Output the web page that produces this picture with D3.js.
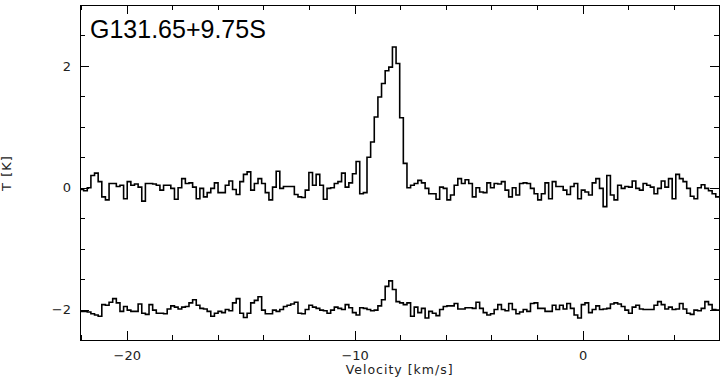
<!DOCTYPE html>
<html>
<head>
<meta charset="utf-8">
<script src="https://cdn.jsdelivr.net/npm/d3@7"></script>
<style>
  body { margin: 0; background: #fff; }
  svg { display: block; }
  .tick text { font-family: "DejaVu Sans", sans-serif; font-size: 13px; fill: #222; }
  .tick line { stroke: #000; shape-rendering: crispEdges; }
</style>
</head>
<body>
<svg width="724" height="385"></svg>
<script>
// spectrum channels: left edge of first channel and channel width (km/s)
var v0 = -22.05;
var dv = 0.1594;

// upper spectrum, T [K]
var upperT = [
  -0.03,-0.05,0.00,0.20,0.24,0.10,-0.15,-0.20,0.07,0.07,
  0.02,0.04,-0.18,0.10,0.04,0.06,0.01,-0.22,0.07,0.07,
  0.06,0.04,-0.04,0.04,0.04,-0.01,-0.19,0.00,0.15,0.07,
  0.08,0.01,-0.18,-0.01,-0.15,-0.08,-0.01,0.08,-0.08,-0.08,
  0.04,0.11,-0.03,-0.11,
  0.10,0.22,0.26,-0.04,0.07,0.15,0.07,-0.08,-0.20,0.01,
  0.27,-0.01,0.02,0.02,0.02,-0.11,-0.15,-0.16,-0.04,0.25,
  0.04,0.22,0.04,-0.19,-0.01,0.00,0.07,0.10,0.24,0.01,
  0.08,0.23,0.43,-0.10,-0.08,0.50,
  0.75,1.16,1.49,1.71,1.92,1.98,2.31,2.04,1.15,0.40,0.00,
  0.04,0.07,0.12,0.08,-0.01,-0.10,-0.10,-0.19,0.01,-0.01,
  -0.20,-0.12,0.04,0.15,0.07,0.13,0.07,-0.15,0.00,-0.07,
  -0.08,0.08,0.00,0.07,0.06,0.10,-0.04,-0.15,0.00,-0.12,
  0.07,0.08,0.07,-0.01,-0.10,-0.20,-0.10,0.08,-0.18,0.10,
  0.02,
  0.02,-0.04,-0.11,0.02,0.07,-0.18,-0.04,-0.07,-0.12,0.08,
  0.15,-0.01,-0.31,0.20,-0.12,-0.20,0.04,-0.01,0.02,0.01,
  0.11,-0.01,-0.04,0.07,0.04,0.01,-0.10,-0.01,0.11,0.01,
  0.15,-0.18,0.22,0.15,0.10,-0.01,-0.14,-0.18,0.00,0.05,
  -0.01,-0.05,-0.10,-0.15
];

// lower spectrum, T [K], drawn with an offset
var lowerOffset = -2;
var lowerT = [
  -0.03,-0.03,-0.04,-0.07,-0.09,-0.11,0.08,0.07,0.12,0.18,
  0.11,-0.03,0.05,-0.01,-0.03,-0.03,0.09,-0.06,-0.08,0.08,
  -0.01,-0.06,-0.06,-0.07,0.01,0.06,0.04,0.01,0.04,0.05,
  0.11,0.16,0.07,0.02,0.01,-0.03,-0.11,-0.06,-0.03,-0.05,
  0.00,-0.02,0.11,0.18,
  -0.06,-0.13,-0.06,0.11,0.15,0.21,-0.01,-0.07,-0.07,-0.01,
  -0.03,0.00,0.05,0.07,0.09,0.12,-0.06,-0.07,0.00,0.07,
  0.04,0.02,-0.01,-0.02,-0.06,-0.01,0.04,0.02,0.00,0.08,
  0.03,-0.05,-0.09,0.03,0.02,0.00,-0.02,-0.01,0.06,0.16,
  0.38,0.47,0.33,0.13,
  0.11,0.08,0.11,-0.11,0.04,-0.05,0.02,-0.14,-0.03,-0.06,
  -0.10,0.00,0.05,0.06,0.06,0.10,0.01,0.01,0.03,0.03,
  0.02,0.12,0.02,-0.05,-0.09,-0.07,0.00,0.08,0.00,-0.02,
  0.10,0.00,-0.07,-0.04,0.00,-0.03,0.10,0.11,0.02,0.02,
  -0.03,-0.03,0.07,0.00,
  0.07,0.01,0.10,0.02,-0.09,-0.14,0.08,0.11,-0.05,0.00,
  0.06,0.00,0.01,0.02,0.09,0.11,0.09,0.05,-0.01,-0.06,
  0.04,0.07,0.01,0.00,0.00,0.00,0.07,0.13,0.08,0.01,
  0.04,0.00,0.01,0.10,0.01,-0.06,-0.08,-0.01,-0.02,0.02,
  0.13,0.08,0.00,-0.01
];

var xMajor = [-20, -10, 0];
var xMinor = [-22, -18, -16, -14, -12, -8, -6, -4, -2, 2, 4, 6];
var yMajor = [-2, 0, 2];
var yMinor = [-2.5, -1.5, -1, -0.5, 0.5, 1, 1.5, 2.5, 3];

var title = "G131.65+9.75S";

var svg = d3.select("svg");
var pLeft = 80, pRight = 719.3, pTop = 5, pBottom = 340;

var x = d3.scaleLinear().domain([-22.05, 6.0]).range([pLeft, pRight]);
var y = d3.scaleLinear().domain([-2.5, 3.0]).range([pBottom, pTop]);

function channels(vals, off) {
  var pts = vals.map(function(t, i) { return [v0 + i * dv, t + off]; });
  pts.push([v0 + vals.length * dv, vals[vals.length - 1] + off]);
  return pts;
}

svg.append("clipPath").attr("id", "clip")
   .append("rect")
   .attr("x", pLeft).attr("y", pTop)
   .attr("width", pRight - pLeft).attr("height", pBottom - pTop);

var line = d3.line()
    .x(function(d) { return x(d[0]); })
    .y(function(d) { return y(d[1]); })
    .curve(d3.curveStepAfter);

var g = svg.append("g").attr("clip-path", "url(#clip)");
g.append("path")
 .datum(channels(upperT, 0))
 .attr("d", line)
 .attr("fill", "none").attr("stroke", "#000").attr("stroke-width", 1.6);
g.append("path")
 .datum(channels(lowerT, lowerOffset))
 .attr("d", line)
 .attr("fill", "none").attr("stroke", "#000").attr("stroke-width", 1.6);

// axes with inward ticks on all sides
function axisGroup(axis, tx, ty) {
  var a = svg.append("g").attr("transform", "translate(" + tx + "," + ty + ")").call(axis);
  a.select(".domain").remove();
  return a;
}

function minusFmt(d) { return d < 0 ? "\u2212" + Math.abs(d) : d; }

axisGroup(d3.axisBottom(x).tickValues(xMajor).tickSize(-9).tickPadding(11).tickFormat(minusFmt), 0, pBottom);
axisGroup(d3.axisBottom(x).tickValues(xMinor).tickSize(-5).tickFormat(""), 0, pBottom);
axisGroup(d3.axisTop(x).tickValues(xMajor).tickSize(-9).tickFormat(""), 0, pTop);
axisGroup(d3.axisTop(x).tickValues(xMinor).tickSize(-5).tickFormat(""), 0, pTop);

axisGroup(d3.axisLeft(y).tickValues(yMajor).tickSize(-9).tickPadding(9).tickFormat(minusFmt), pLeft, 0);
axisGroup(d3.axisLeft(y).tickValues(yMinor).tickSize(-5).tickFormat(""), pLeft, 0);
axisGroup(d3.axisRight(y).tickValues(yMajor).tickSize(-9).tickFormat(""), pRight, 0);
axisGroup(d3.axisRight(y).tickValues(yMinor).tickSize(-5).tickFormat(""), pRight, 0);

svg.append("rect")
   .attr("x", pLeft).attr("y", pTop)
   .attr("width", pRight - pLeft).attr("height", pBottom - pTop)
   .attr("fill", "none").attr("stroke", "#000").attr("stroke-width", 1)
   .attr("shape-rendering", "crispEdges");

svg.append("text")
   .attr("x", 90).attr("y", 37.5)
   .attr("font-family", "'Liberation Sans', Arial, sans-serif")
   .attr("font-size", 25)
   .attr("fill", "#000")
   .text(title);

svg.append("text")
   .attr("x", (pLeft + pRight) / 2).attr("y", 374)
   .attr("text-anchor", "middle")
   .attr("font-family", "'DejaVu Sans', sans-serif")
   .attr("font-size", 12.5).attr("letter-spacing", 1)
   .attr("fill", "#222")
   .text("Velocity [km/s]");

svg.append("text")
   .attr("transform", "translate(11,173) rotate(-90)")
   .attr("text-anchor", "middle")
   .attr("font-family", "'DejaVu Sans', sans-serif")
   .attr("font-size", 13).attr("letter-spacing", 1)
   .attr("fill", "#222")
   .text("T [K]");
</script>
</body>
</html>
